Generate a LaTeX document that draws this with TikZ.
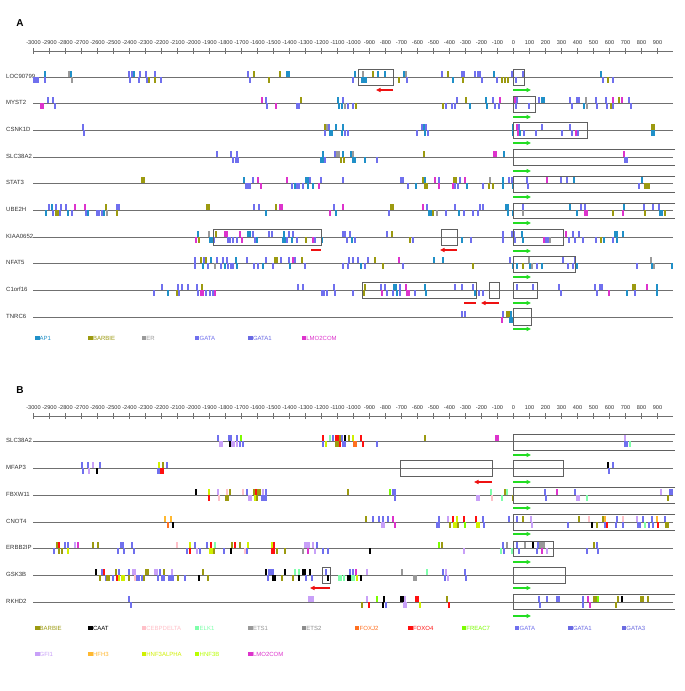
\documentclass[tikz,border=0pt]{standalone}
\usepackage{fontspec}
\setmainfont{Liberation Sans}
\usetikzlibrary{arrows.meta}
\definecolor{ap}{HTML}{2090C8}
\definecolor{ba}{HTML}{9C9A10}
\definecolor{er}{HTML}{9A9A9A}
\definecolor{ga}{HTML}{7070EE}
\definecolor{ga1}{HTML}{6A6AE4}
\definecolor{ga3}{HTML}{6B6BE0}
\definecolor{lm}{HTML}{DD33CC}
\definecolor{ca}{HTML}{000000}
\definecolor{cb}{HTML}{FFC0C8}
\definecolor{el}{HTML}{7FFFAA}
\definecolor{et}{HTML}{999999}
\definecolor{et2}{HTML}{8C8C8C}
\definecolor{fj}{HTML}{FF7020}
\definecolor{fo}{HTML}{FF1010}
\definecolor{fr}{HTML}{7CFC00}
\definecolor{gf}{HTML}{C8A0F8}
\definecolor{hf}{HTML}{FFB830}
\definecolor{ha}{HTML}{D0F000}
\definecolor{hb}{HTML}{B8FF00}
\definecolor{lincol}{HTML}{707070}
\definecolor{boxcol}{HTML}{606060}
\definecolor{txtcol}{HTML}{333333}
\definecolor{arrgreen}{HTML}{22DD22}
\definecolor{arrred}{HTML}{EE1111}
\newcommand\tfup[2]{\foreach \x/\c in {#2}{\fill[\c] (\x-0.9,#1-6) rectangle (\x+0.9,#1);}}
\newcommand\tfdn[2]{\foreach \x/\c in {#2}{\fill[\c] (\x-0.9,#1) rectangle (\x+0.9,#1+6);}}
\newcommand\generow[3]{\node[glab] (#1) at (6,#2-1) {#3};\draw[gline] (33,#2) -- (673,#2);}
\newcommand\scaleaxis[1]{\draw[axl] (33,#1) -- (673,#1);
  \foreach \vv in {-3000,-2900,...,900}{\draw[axl] ({513.5+0.16*\vv},#1-3) -- ++(0,6);
  \node[axlab] at ({513.5+0.16*\vv},#1-8) {\vv};}}
\newcommand\openbox[3]{\draw[boxs] (675,#2) -| (#1,#3) -- (675,#3);}
\begin{document}
\begin{tikzpicture}[x=1pt,y=-1pt,
  glab/.style={anchor=west,inner sep=0pt,text=txtcol,font=\fontsize{6}{7}\selectfont},
  gline/.style={draw=lincol,line width=0.8pt},
  axl/.style={draw=lincol,line width=0.7pt},
  axlab/.style={inner sep=0pt,text=txtcol,font=\fontsize{5.6}{6.5}\selectfont},
  boxs/.style={draw=boxcol,line width=0.7pt},
  garr/.style={draw=arrgreen,line width=1.2pt,-{Triangle[length=4.5pt,width=4pt]}},
  rarr/.style={draw=arrred,line width=1.2pt,-{Triangle[length=4.5pt,width=4pt]}},
  rbar/.style={draw=arrred,line width=1.2pt},
  leg/.style={anchor=west,inner sep=0pt,font=\fontsize{6}{7}\selectfont},
  panel/.style={inner sep=0pt,font=\bfseries\fontsize{10}{12}\selectfont}]
\fill[white] (0,0) rectangle (685,691);
\useasboundingbox (0,0) rectangle (685,691);
% ================= Panel A =================
\node[panel] (pA) at (20,23.5) {A};
\scaleaxis{51}
\generow{gA1}{77}{LOC90799}
\generow{gA2}{103}{MYST2}
\generow{gA3}{130}{CSNK1D}
\generow{gA4}{157}{SLC38A2}
\generow{gA5}{183}{STAT3}
\generow{gA6}{210}{UBE2H}
\generow{gA7}{237}{KIAA0652}
\generow{gA8}{263}{NFAT5}
\generow{gA9}{290}{C1orf16}
\generow{gA10}{317}{TNRC6}
% LOC90799
\tfup{77}{45/ap,69/er,71/ap,129/ga,132/ga,134/ap,140/ga,146/ga,155/ga,248/ga,254/ba,280/ba,287/ap,289/ap,355/ap,363/er,373/ba,378/ap,385/ap,404/ap,406/er,442/ga,448/ba,462/ga,464/ga,475/ga,478/ga,480/ga,494/ap,512/ga,523/ga,601/ap}
\tfdn{77}{34/ga,36/ga,38/ga,45/ga,72/er,130/ga,139/ga,147/ga,149/ba,155/ba,161/ga,250/ga,269/ba,353/ga,362/ap,364/ap,366/ap,399/ba,407/ga,453/ap,463/ba,482/ga,497/ga,502/ba,505/ba,508/ba,516/ga,603/ga,608/ba,613/ga}
% MYST2
\tfup{103}{48/ga,53/ga,262/lm,266/ga,301/ba,338/ap,343/ga,457/ga,466/ba,486/ap,493/ga,500/lm,515/lm,517/ga,539/ga,542/ap,544/ap,570/ga,577/ga,579/ga,586/er,596/ga,606/ga,613/lm,619/ba,622/lm,629/ga}
\tfdn{103}{41/lm,43/lm,55/ga,267/ga,276/lm,297/ga,299/ga,339/ap,342/ap,345/er,348/ga,353/ga,356/ba,443/ba,446/ga,452/ga,455/ga,470/ap,487/ap,495/ga,499/ga,516/ga,529/ga,572/ga,584/ap,587/er,597/ga,607/ga,611/ba,613/ga,631/ga}
% CSNK1D
\tfup{130}{83/ga,325/ba,327/er,329/ga,336/ap,343/ap,422/ga,424/ap,426/ga,513/ap,517/lm,519/ga,542/ga,570/ga,652/ba,654/ba}
\tfdn{130}{84/ga,325/ga,330/ap,332/ap,342/ap,345/ga,348/ga,417/ga,425/ap,428/ga,513/ap,518/lm,520/ap,524/ga,536/ga,562/ga,572/ga,576/lm,578/ga,652/ap,654/ap}
% SLC38A2
\tfup{157}{217/ga,231/ga,237/ga,323/ap,335/ga,337/er,339/er,343/ap,351/ap,353/er,424/ba,494/lm,496/lm,504/ap,624/lm}
\tfdn{157}{233/ga,236/ga,238/ga,321/ap,323/ap,325/ga,341/ba,344/ba,353/ap,355/ap,365/ap,377/ga,625/ga,627/ga}
% STAT3
\tfup{183}{142/ba,144/ba,244/ap,253/ga,258/lm,287/lm,306/ap,308/ap,310/ga,321/ga,343/ga,401/ga,403/ga,423/ba,425/ap,435/lm,439/ga,454/ba,456/ba,460/ga,465/lm,490/er,503/ap,509/ga,512/ga,527/ga,547/lm,561/ga,567/ga,574/ap,642/ap}
\tfdn{183}{246/ga,248/ga,250/ga,261/lm,292/ga,295/ap,297/ga,299/ga,303/ga,308/ap,313/ap,319/lm,408/ga,416/ap,425/ba,427/ba,439/lm,453/lm,455/ga,458/ga,467/ap,483/ga,489/ba,493/ba,503/ap,513/ap,528/ga,639/ga,645/ba,647/ba,649/ba}
% UBE2H
\tfup{210}{49/ga,52/ap,56/ga,61/ga,66/ga,75/lm,85/lm,106/ba,117/ga,119/ga,207/ba,209/ba,254/ga,259/ga,276/ba,280/lm,282/lm,334/ga,343/lm,391/ba,393/ba,423/lm,427/ga,455/ga,480/ga,483/ga,506/ap,508/ap,523/ga,570/ap,581/ga,585/ga,624/ap,644/ga,653/ga,659/ga}
\tfdn{210}{46/ap,53/ga,56/ba,58/ba,60/ga,68/ap,72/ga,86/ga,88/ap,97/ga,99/ga,102/ga,104/ap,107/er,117/ba,266/ap,330/lm,336/ap,389/ga,429/ap,431/ap,433/ba,437/er,446/ga,459/ap,464/ga,473/ga,478/ga,508/ap,513/ap,523/er,577/ap,585/lm,587/lm,613/ba,623/lm,645/ba,660/ap,662/ap,665/ba}
% KIAA0652
\tfup{237}{198/ap,209/er,216/ba,225/lm,227/lm,240/lm,248/ap,250/ap,253/ga,269/ga,272/ga,284/ap,289/ga,293/ga,343/ga,345/ga,350/ga,387/ga,392/ba,503/ga,512/ga,514/ga,522/ap,566/lm,573/ga,579/ga,615/ap,617/ap,623/ap}
\tfdn{237}{196/lm,199/ba,210/ap,212/ap,214/ga,228/ga,230/ga,233/ga,237/ga,242/lm,255/ga,257/ap,283/ap,285/ap,287/ga,292/ap,297/ga,306/ba,313/lm,315/ga,322/ap,347/ga,352/ap,355/ga,410/ba,413/ga,462/ap,471/ga,503/ga,515/ga,523/ap,544/lm,546/ga,548/ga,550/er,569/ga,575/ga,583/ga,596/ga,601/ba,604/ap,613/ga,617/ap}
% NFAT5
\tfup{263}{195/ga,201/ba,204/ga,206/ba,211/ap,217/ga,223/ga,227/ga,236/ap,247/ga,266/ga,275/ba,277/ba,281/ga,289/ga,293/lm,295/ga,302/ba,349/ga,353/ga,358/ga,368/ga,375/ba,399/lm,434/ap,443/ap,510/ga,529/er,563/ga,575/ga,651/er}
\tfdn{263}{195/ga,203/ap,208/ga,215/er,221/ga,225/ap,228/ga,231/ga,233/ga,237/ap,254/ga,258/ga,263/ap,273/ga,290/ap,305/ga,343/ga,348/ga,361/ap,365/ga,383/ba,403/ga,473/ba,513/ap,517/ap,523/ba,530/ap,532/er,537/ga,542/ap,568/ga,573/ga,577/ap,637/ga,652/ap,654/er,672/ap}
% C1orf16
\tfup{290}{162/ga,178/ga,182/ga,188/ga,197/ga,202/ba,298/ga,303/ga,334/ga,365/ba,381/ga,385/ga,394/ap,396/ap,400/ga,406/lm,425/ap,455/ga,462/ga,473/ga,517/ga,533/ga,559/ga,595/ga,600/ga,602/ga,633/ba,635/ba,647/lm,657/ap}
\tfdn{290}{154/ga,168/ap,177/ba,179/ga,198/ga,201/lm,203/lm,206/ga,210/ga,213/ga,215/lm,322/ga,324/ga,327/ga,335/ga,353/ga,364/ba,382/lm,387/ga,393/ga,397/ap,400/ga,407/lm,409/lm,415/ga,426/ap,475/ap,479/ga,483/ga,561/ga,597/ga,609/lm,627/ap,635/ga,657/ap}
% TNRC6
\tfup{317}{462/ga,465/ga,503/ga,507/ba,509/ba,511/ap}
\tfdn{317}{502/lm,510/ap,512/ap}
% boxes and arrows A
\draw[boxs] (358,69) rectangle (393,85);
\draw[boxs] (513,69) rectangle (524,85);
\coordinate (rA1s) at (393,90); \coordinate (rA1e) at (376,90);
\draw[rarr] (rA1s) -- (rA1e);
\coordinate (gA1s) at (513,90); \coordinate (gA1e) at (531,90);
\draw[garr] (gA1s) -- (gA1e);
\draw[boxs] (513,96) rectangle (535,112);
\coordinate (gA2s) at (513,117); \coordinate (gA2e) at (531,117);
\draw[garr] (gA2s) -- (gA2e);
\draw[boxs] (513,122) rectangle (587,138);
\coordinate (gA3s) at (513,143); \coordinate (gA3e) at (531,143);
\draw[garr] (gA3s) -- (gA3e);
\openbox{513}{149}{165}
\coordinate (gA4s) at (513,171); \coordinate (gA4e) at (531,171);
\draw[garr] (gA4s) -- (gA4e);
\openbox{513}{176}{192}
\coordinate (gA5s) at (513,197); \coordinate (gA5e) at (531,197);
\draw[garr] (gA5s) -- (gA5e);
\openbox{513}{203}{218}
\coordinate (gA6s) at (513,223); \coordinate (gA6e) at (531,223);
\draw[garr] (gA6s) -- (gA6e);
\draw[boxs] (213,229) rectangle (321,245);
\coordinate (rA7as) at (311,250); \coordinate (rA7ae) at (321,250);
\draw[rbar] (rA7as) -- (rA7ae);
\draw[boxs] (441,229) rectangle (457,245);
\coordinate (rA7s) at (457,250); \coordinate (rA7e) at (440,250);
\draw[rarr] (rA7s) -- (rA7e);
\draw[boxs] (513,229) rectangle (563,245);
\coordinate (gA7s) at (513,251); \coordinate (gA7e) at (531,251);
\draw[garr] (gA7s) -- (gA7e);
\draw[boxs] (513,256) rectangle (575,272);
\coordinate (gA8s) at (513,277); \coordinate (gA8e) at (531,277);
\draw[garr] (gA8s) -- (gA8e);
\draw[boxs] (362,282) rectangle (476,298);
\coordinate (rA9as) at (464,303); \coordinate (rA9ae) at (476,303);
\draw[rbar] (rA9as) -- (rA9ae);
\draw[boxs] (489,282) rectangle (499,298);
\coordinate (rA9s) at (499,303); \coordinate (rA9e) at (481,303);
\draw[rarr] (rA9s) -- (rA9e);
\draw[boxs] (513,282) rectangle (537,298);
\coordinate (gA9s) at (513,303); \coordinate (gA9e) at (531,303);
\draw[garr] (gA9s) -- (gA9e);
\draw[boxs] (513,308) rectangle (531,325);
\coordinate (gA10s) at (513,329); \coordinate (gA10e) at (531,329);
\draw[garr] (gA10s) -- (gA10e);
% legend A
\foreach \i/\c/\t in {0/ap/AP1,1/ba/BARBIE,2/er/ER,3/ga/GATA,4/ga1/GATA1,5/lm/LMO2COM}{
  \fill[\c] (35+53.33*\i,335.7) rectangle ++(4.5,4.5);
  \node[leg,text=\c] (legA\t) at (39.5+53.33*\i,338) {\t};}
% ================= Panel B =================
\node[panel] (pB) at (20,390.5) {B};
\scaleaxis{416}
\generow{gB1}{441}{SLC38A2}
\generow{gB2}{468}{MFAP3}
\generow{gB3}{495}{FBXW11}
\generow{gB4}{522}{CNOT4}
\generow{gB5}{548}{ERBB2IP}
\generow{gB6}{575}{GSK3B}
\generow{gB7}{602}{RKHD2}
% SLC38A2
\tfup{441}{218/ga,229/ga,231/ga,237/ga,241/fr,323/fo,330/el,333/ga,336/fo,338/fo,340/ba,342/ga,345/ca,349/ba,353/ha,361/fo,425/ba,496/lm,498/lm,625/gf}
\tfdn{441}{220/gf,222/gf,230/ca,232/gf,234/gf,237/gf,240/ga,243/ga,323/ga,326/ha,336/ba,338/ba,340/fo,343/ga,345/ga,354/fj,356/fj,363/fo,377/ga,625/ga,627/ga,630/el}
% MFAP3
\tfup{468}{82/ga,88/ga,93/gf,100/ga,159/ha,163/ba,167/ga,608/ca,613/ga}
\tfdn{468}{83/ga,89/gf,97/ca,158/ga,160/ga,161/fo,163/fo,609/ga}
% FBXW11
\tfup{495}{196/ca,209/ha,218/gf,227/cb,230/ba,243/cb,247/ga,254/ba,256/fo,258/ba,260/ba,263/gf,266/ga,348/ba,390/fr,393/ga,395/ga,491/el,505/ba,507/el,545/ga,557/lm,575/ga,661/gf,670/ga,672/ga}
\tfdn{495}{209/fo,219/cb,226/ba,228/ba,249/gf,251/gf,255/ha,257/ba,262/ga,264/ga,266/ga,395/ga,477/gf,479/gf,492/cb,502/el,513/ba,546/ga,577/gf,579/gf,587/el,668/ba}
% CNOT4
\tfup{522}{165/hf,171/hf,366/ba,373/ga,379/ga,383/ga,388/ga,393/lm,439/ga,448/gf,453/fo,457/ha,464/fo,476/fo,483/ga,509/ga,517/ga,523/ba,531/gf,579/ba,589/cb,603/ba,605/hf,617/ga,623/cb,637/gf,643/ga,652/ga,657/hf,665/ga}
\tfdn{522}{168/fj,173/ca,382/gf,384/gf,395/lm,437/ga,439/ga,450/ba,454/ha,456/ha,458/ba,465/fr,477/ha,479/ha,484/ga,532/gf,568/ga,592/ca,597/ba,605/ga,607/fo,616/ga,623/ga,638/ga,640/ga,645/el,649/ga,653/ga,658/fo,666/ba,668/ba}
% ERBB2IP
\tfup{548}{57/ba,59/fo,65/ga,68/ga,75/gf,78/lm,93/ba,98/ba,121/ga,123/ga,132/ga,177/cb,190/ha,195/ga,207/ga,211/fo,215/el,232/ba,235/fo,240/ba,248/ha,272/ha,274/fo,305/gf,307/gf,309/gf,313/gf,317/ga,439/fr,442/ba,503/ga,507/et,517/ga,525/et,533/ca,538/ga,540/et,542/et,544/et,594/ba,597/ga}
\tfdn{548}{54/ga,59/ba,62/ba,68/ha,118/ga,124/ga,134/ga,187/ga,190/fo,197/gf,200/ga,210/ha,212/ha,214/ba,224/ga,231/ca,245/cb,247/ga,272/fo,274/fo,277/ba,285/ba,303/et,308/lm,315/gf,323/ga,328/ga,370/ca,464/gf,501/el,504/ga,512/el,519/ga,537/ga,542/lm,547/gf,587/ga,598/ga}
% GSK3B
\tfup{575}{96/ca,102/ga,104/fo,116/ba,119/ga,129/ga,133/gf,135/gf,146/ba,148/ba,155/gf,157/gf,160/ga,164/ba,172/gf,203/ba,266/ca,269/ga,271/ga,273/ga,285/ca,295/el,299/el,303/ca,305/ca,310/ca,326/ga,350/ga,353/ga,356/lm,367/gf,402/et,427/el,443/ga,446/gf,465/ga}
\tfdn{575}{100/ba,106/ga,107/ba,109/ba,113/ga,117/fo,119/ha,122/ha,124/ha,129/ba,135/cb,137/ga,139/ga,142/ga,144/ba,158/ga,162/ga,164/ga,169/ga,171/ga,173/ga,178/ba,185/ga,199/ca,208/ba,268/ga,273/ca,275/ca,282/ba,293/ba,299/ca,306/ga,312/ga,328/ca,339/el,341/el,344/el,348/ca,350/ca,352/el,354/el,357/ha,361/ca,414/et,416/et,445/ga,448/gf,466/ga}
% RKHD2
\tfup{602}{129/ga,309/gf,311/gf,313/gf,367/gf,377/fr,384/ca,401/ca,403/ca,405/gf,416/fo,418/fo,447/ba,539/ga,547/ga,557/ga,559/ga,583/ga,588/lm,594/ba,596/ba,598/fr,618/ba,622/ca,641/ba,643/ba,648/ba}
\tfdn{602}{131/ga,362/ba,369/fo,383/ca,386/ga,404/gf,406/gf,420/ha,449/fo,540/ga,583/ga,590/lm,616/ba}
% boxes and arrows B
\openbox{513}{434}{450}
\coordinate (gB1s) at (513,455); \coordinate (gB1e) at (531,455);
\draw[garr] (gB1s) -- (gB1e);
\draw[boxs] (400,460) rectangle (492,476);
\coordinate (rB2s) at (492,482); \coordinate (rB2e) at (474,482);
\draw[rarr] (rB2s) -- (rB2e);
\draw[boxs] (513,460) rectangle (563,476);
\coordinate (gB2s) at (513,482); \coordinate (gB2e) at (531,482);
\draw[garr] (gB2s) -- (gB2e);
\openbox{513}{487}{503}
\coordinate (gB3s) at (513,508); \coordinate (gB3e) at (531,508);
\draw[garr] (gB3s) -- (gB3e);
\openbox{513}{514}{530}
\coordinate (gB4s) at (513,534); \coordinate (gB4e) at (531,534);
\draw[garr] (gB4s) -- (gB4e);
\draw[boxs] (513,541) rectangle (553,556);
\coordinate (gB5s) at (513,562); \coordinate (gB5e) at (531,562);
\draw[garr] (gB5s) -- (gB5e);
\draw[boxs] (322,567) rectangle (330,583);
\coordinate (rB6s) at (330,588); \coordinate (rB6e) at (310,588);
\draw[rarr] (rB6s) -- (rB6e);
\draw[boxs] (513,567) rectangle (565,583);
\coordinate (gB6s) at (513,588); \coordinate (gB6e) at (531,588);
\draw[garr] (gB6s) -- (gB6e);
\openbox{513}{594}{609}
\coordinate (gB7s) at (513,616); \coordinate (gB7e) at (531,616);
\draw[garr] (gB7s) -- (gB7e);
% legend B
\foreach \i/\c/\t in {0/ba/BARBIE,1/ca/CAAT,2/cb/CEBPDELTA,3/el/ELK1,4/et/ETS1,5/et2/ETS2,6/fj/FOXJ2,7/fo/FOXO4,8/fr/FREAC7,9/ga/GATA,10/ga1/GATA1,11/ga3/GATA3}{
  \fill[\c] (35+53.33*\i,625.7) rectangle ++(4.5,4.5);
  \node[leg,text=\c] (legB\t) at (39.5+53.33*\i,628) {\t};}
\foreach \i/\c/\t in {0/gf/GFI1,1/hf/HFH3,2/ha/HNF3ALPHA,3/hb/HNF3B,4/lm/LMO2COM}{
  \fill[\c] (35+53.33*\i,651.7) rectangle ++(4.5,4.5);
  \node[leg,text=\c] (legC\t) at (39.5+53.33*\i,654) {\t};}
\end{tikzpicture}
\end{document}
